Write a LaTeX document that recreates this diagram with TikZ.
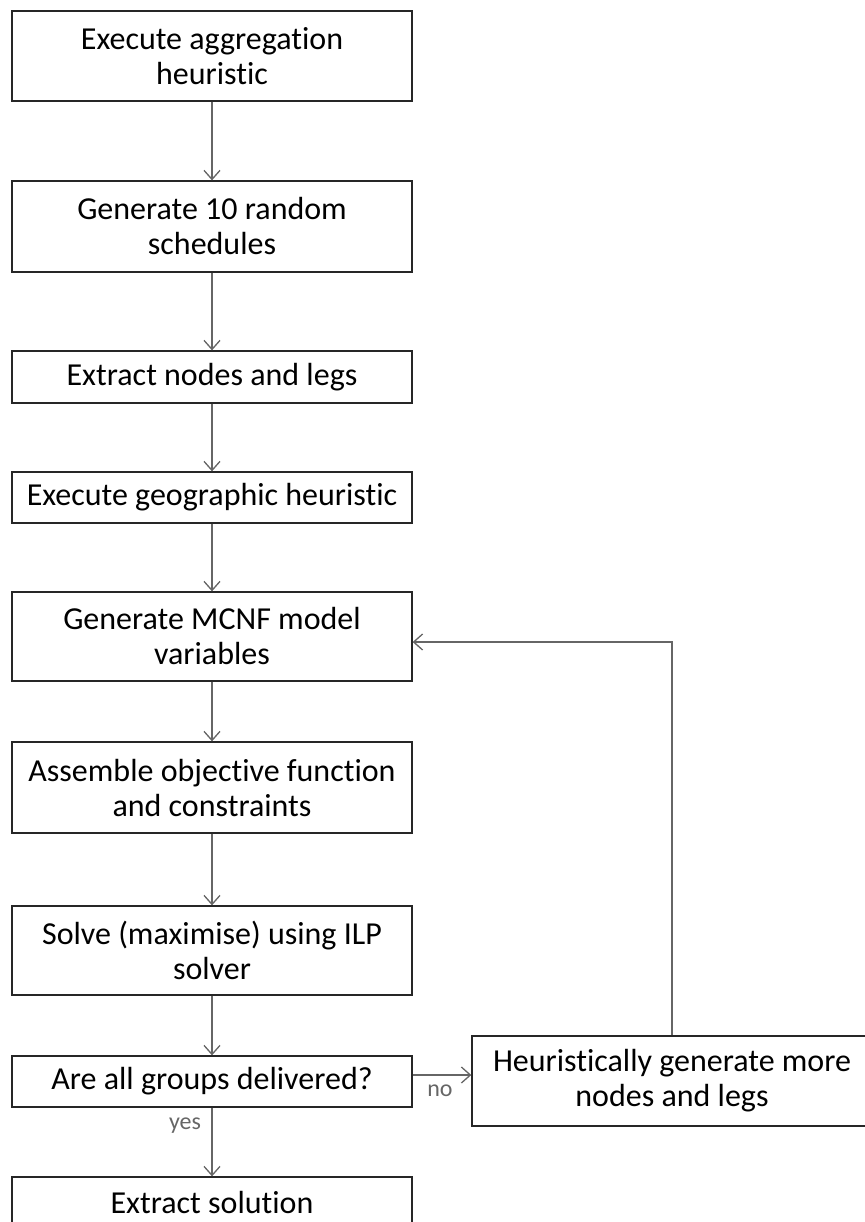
\documentclass[tikz,border=0pt]{standalone}
\usepackage{fontspec}
\setmainfont{Carlito}[Ligatures=NoCommon]
\usetikzlibrary{arrows.meta}
\begin{document}
\begin{tikzpicture}[x=1pt,y=-1pt,
  stepbox/.style={draw=black!85, line width=1.3pt, minimum width=400pt,
    align=center, inner sep=0pt, font=\fontsize{32}{35}\selectfont},
  flow/.style={draw=black!60, line width=1.3pt,
    -{Straight Barb[length=9pt,width=16pt,line width=1.3pt]}},
  lbl/.style={text=black!60, font=\fontsize{24}{26}\selectfont}]
\useasboundingbox (0,0) rectangle (864,1222);

% main column of steps
\node[stepbox, minimum height=90pt] (n1) at (212,56)    {Execute aggregation\\heuristic};
\node[stepbox, minimum height=91pt] (n2) at (212,226.5) {Generate 10 random\\schedules};
\node[stepbox, minimum height=52pt] (n3) at (212,377)   {Extract nodes and legs};
\node[stepbox, minimum height=51pt] (n4) at (212,497.5) {Execute geographic heuristic};
\node[stepbox, minimum height=89pt] (n5) at (212,636.5) {Generate MCNF model\\variables};
\node[stepbox, minimum height=91pt] (n6) at (212,787.5) {Assemble objective function\\and constraints};
\node[stepbox, minimum height=89pt] (n7) at (212,950.5) {Solve (maximise) using ILP\\solver};
\node[stepbox, minimum height=51pt] (n8) at (212,1081.5) {Are all groups delivered?};
\node[stepbox, minimum height=51pt] (n9) at (212,1202.5) {Extract solution};

% side branch
\node[stepbox, minimum height=90pt] (h) at (672,1081) {Heuristically generate more\\nodes and legs};

% connectors
\draw[flow] (n1) -- (n2);
\draw[flow] (n2) -- (n3);
\draw[flow] (n3) -- (n4);
\draw[flow] (n4) -- (n5);
\draw[flow] (n5) -- (n6);
\draw[flow] (n6) -- (n7);
\draw[flow] (n7) -- (n8);
\draw[flow] (n8) -- (n9);
\draw[flow] ([yshift=6.5pt]n8.east) -- ([yshift=6.5pt]n8.east -| h.west);
\draw[flow] (h.north) |- ([yshift=-5.5pt]n5.east);

% branch labels
\node[lbl] (yes) at (185,1126) {yes};
\node[lbl] (no) at (440,1091) {no};
\end{tikzpicture}
\end{document}
